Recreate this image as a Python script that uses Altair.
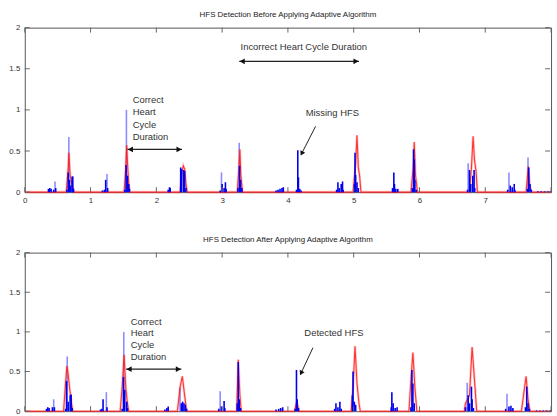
import altair as alt
import pandas as pd

FONT = "Liberation Sans"

# ---------------- Top panel data ----------------
top_blue_x = [0.36, 0.38, 0.40, 0.44, 0.46, 0.47,
              0.64, 0.66, 0.67, 0.68, 0.70, 0.72, 0.73, 0.74,
              1.18, 1.21, 1.23, 1.25, 1.26,
              1.52, 1.54, 1.545, 1.56, 1.58, 1.59,
              2.18, 2.20, 2.21,
              2.37, 2.38, 2.41, 2.43, 2.45,
              2.97, 2.99, 3.00, 3.03, 3.05, 3.06,
              3.24, 3.26, 3.265, 3.28, 3.30,
              3.82, 3.85, 3.88, 3.91, 3.93,
              4.13, 4.15, 4.16, 4.18, 4.20,
              4.74, 4.76, 4.78, 4.81, 4.83, 4.84,
              5.01, 5.02, 5.03, 5.05, 5.07,
              5.59, 5.61, 5.62, 5.64, 5.67,
              5.89, 5.91, 5.92, 5.93, 5.95,
              6.73, 6.74, 6.76, 6.78, 6.81, 6.83, 6.84,
              7.34, 7.36, 7.38, 7.41, 7.44, 7.45,
              7.64, 7.65, 7.66, 7.68, 7.70,
              7.80, 7.85, 7.90, 7.95, 7.99]
top_blue_h = [0.04, 0.05, 0.04, 0.03, 0.13, 0.05,
              0.03, 0.24, 0.67, 0.15, 0.08, 0.19, 0.19, 0.04,
              0.02, 0.03, 0.15, 0.22, 0.05,
              0.03, 0.33, 1.00, 0.20, 0.10, 0.04,
              0.03, 0.06, 0.05,
              0.30, 0.28, 0.27, 0.26, 0.05,
              0.02, 0.24, 0.10, 0.05, 0.12, 0.04,
              0.05, 0.60, 0.32, 0.15, 0.05,
              0.02, 0.03, 0.04, 0.05, 0.06,
              0.03, 0.51, 0.18, 0.04, 0.02,
              0.03, 0.12, 0.05, 0.10, 0.13, 0.03,
              0.10, 0.48, 0.21, 0.12, 0.05,
              0.05, 0.24, 0.10, 0.04, 0.04,
              0.05, 0.52, 0.40, 0.15, 0.03,
              0.03, 0.35, 0.27, 0.10, 0.20, 0.27, 0.05,
              0.03, 0.24, 0.08, 0.06, 0.10, 0.03,
              0.04, 0.42, 0.30, 0.10, 0.03,
              0.01, 0.01, 0.01, 0.01, 0.01]
top_blue_light = [0, 0, 0, 0, 1, 0,
                  0, 0, 1, 0, 0, 0, 0, 0,
                  0, 0, 0, 1, 0,
                  0, 0, 1, 0, 0, 0,
                  0, 0, 0,
                  0, 0, 0, 0, 0,
                  0, 1, 0, 0, 0, 0,
                  0, 1, 0, 0, 0,
                  0, 0, 0, 0, 0,
                  0, 0, 0, 0, 0,
                  0, 0, 0, 0, 0, 0,
                  0, 0, 0, 0, 0,
                  0, 0, 0, 0, 0,
                  0, 0, 0, 0, 0,
                  0, 1, 0, 0, 0, 0, 0,
                  0, 1, 0, 0, 0, 0,
                  0, 1, 0, 0, 0,
                  0, 0, 0, 0, 0]
top_red_x = [0, 0.63, 0.66, 0.67, 0.69, 0.72, 0.75,
             1.51, 1.535, 1.55, 1.565, 1.58, 1.60,
             2.36, 2.39, 2.41, 2.43, 2.45, 2.47,
             3.23, 3.255, 3.27, 3.285, 3.31,
             4.99, 5.03, 5.05, 5.07, 5.09, 5.11,
             5.87, 5.905, 5.92, 5.94, 5.97,
             6.76, 6.79, 6.815, 6.835, 6.86, 6.88,
             7.62, 7.655, 7.675, 7.70, 8.0]
top_red_y = [0, 0, 0.30, 0.48, 0.20, 0.08, 0,
             0, 0.30, 0.57, 0.30, 0.10, 0,
             0, 0.25, 0.32, 0.28, 0.10, 0,
             0, 0.30, 0.52, 0.20, 0,
             0, 0.35, 0.69, 0.30, 0.20, 0,
             0, 0.30, 0.61, 0.20, 0,
             0, 0.30, 0.68, 0.40, 0.25, 0,
             0, 0.31, 0.10, 0, 0]

# ---------------- Bottom panel data ----------------
bot_blue_x = [0.33, 0.35, 0.37, 0.42, 0.44, 0.45,
              0.62, 0.635, 0.645, 0.66, 0.69, 0.705, 0.72,
              1.15, 1.17, 1.19, 1.24, 1.25,
              1.48, 1.50, 1.505, 1.52, 1.55, 1.56,
              2.13, 2.16, 2.18,
              2.36, 2.38, 2.40, 2.42, 2.44, 2.46,
              2.95, 2.97, 2.99, 3.03, 3.04,
              3.23, 3.245, 3.26, 3.28,
              3.82, 3.86, 3.89, 3.92,
              4.11, 4.13, 4.14, 4.16,
              4.71, 4.73, 4.76, 4.79, 4.81,
              4.98, 4.99, 5.01, 5.03,
              5.57, 5.58, 5.60, 5.63, 5.66,
              5.87, 5.885, 5.90, 5.92,
              6.70, 6.725, 6.74, 6.76, 6.79, 6.80, 6.82,
              7.31, 7.33, 7.36, 7.39, 7.42,
              7.61, 7.63, 7.65, 7.67,
              7.78, 7.83, 7.88, 7.93, 7.99]
bot_blue_h = [0.03, 0.05, 0.04, 0.05, 0.15, 0.05,
              0.03, 0.38, 0.69, 0.12, 0.20, 0.21, 0.04,
              0.02, 0.03, 0.15, 0.24, 0.05,
              0.03, 0.43, 1.00, 0.27, 0.12, 0.04,
              0.02, 0.04, 0.06,
              0.30, 0.10, 0.12, 0.10, 0.08, 0.03,
              0.03, 0.25, 0.06, 0.13, 0.04,
              0.10, 0.62, 0.15, 0.04,
              0.02, 0.03, 0.04, 0.05,
              0.03, 0.52, 0.15, 0.04,
              0.03, 0.10, 0.05, 0.12, 0.03,
              0.20, 0.50, 0.12, 0.08,
              0.05, 0.24, 0.10, 0.04, 0.05,
              0.05, 0.52, 0.35, 0.10,
              0.05, 0.36, 0.20, 0.10, 0.31, 0.15, 0.04,
              0.03, 0.22, 0.06, 0.07, 0.04,
              0.05, 0.31, 0.10, 0.03,
              0.01, 0.01, 0.01, 0.01, 0.01]
bot_blue_light = [0, 0, 0, 0, 1, 0,
                  0, 0, 1, 0, 0, 0, 0,
                  0, 0, 0, 1, 0,
                  0, 0, 1, 0, 0, 0,
                  0, 0, 0,
                  1, 0, 0, 0, 0, 0,
                  0, 1, 0, 0, 0,
                  0, 0, 0, 0,
                  0, 0, 0, 0,
                  0, 0, 0, 0,
                  0, 0, 0, 0, 0,
                  0, 0, 0, 0,
                  0, 0, 0, 0, 0,
                  0, 0, 0, 0,
                  0, 1, 0, 0, 0, 0, 0,
                  0, 1, 0, 0, 0,
                  0, 0, 0, 0,
                  0, 0, 0, 0, 0]
bot_red_x = [0, 0.59, 0.615, 0.64, 0.655, 0.68, 0.71, 0.73,
             1.45, 1.48, 1.51, 1.535, 1.56, 1.58,
             2.32, 2.36, 2.395, 2.43, 2.46,
             3.22, 3.245, 3.27, 3.29,
             4.10, 4.135, 4.17,
             4.96, 4.99, 5.02, 5.05, 5.08, 5.10,
             5.84, 5.87, 5.90, 5.93, 5.96,
             6.68, 6.70, 6.73, 6.76, 6.80, 6.84, 6.87,
             7.55, 7.62, 7.65, 7.68, 8.0]
bot_red_y = [0, 0, 0.30, 0.57, 0.50, 0.30, 0.10, 0,
             0, 0.30, 0.71, 0.30, 0.10, 0,
             0, 0.30, 0.44, 0.20, 0,
             0, 0.65, 0.20, 0,
             0, 0.12, 0,
             0, 0.30, 0.82, 0.35, 0.10, 0,
             0, 0.40, 0.74, 0.30, 0,
             0, 0.10, 0.15, 0.20, 0.81, 0.35, 0,
             0, 0.44, 0.15, 0, 0]

# ---------------- Annotations ----------------
top_title = "HFS Detection Before Applying Adaptive Algorithm"
bot_title = "HFS Detection After Applying Adaptive Algorithm"

top_text = ["Incorrect Heart Cycle Duration", "Correct", "Heart", "Cycle", " Duration", "Missing HFS"]
top_text_x = [3.28, 1.64, 1.64, 1.64, 1.64, 4.27]
top_text_y = [1.76, 1.12, 0.97, 0.82, 0.67, 0.96]
top_darrow_x1 = [3.26, 1.56]
top_darrow_x2 = [5.08, 2.39]
top_darrow_y = [1.59, 0.52]
top_arrow = [4.42, 0.80, 4.21, 0.47]

bot_text = ["Correct", "Heart", "Cycle", " Duration", "Detected HFS"]
bot_text_x = [1.61, 1.61, 1.61, 1.61, 4.25]
bot_text_y = [1.13, 0.98, 0.83, 0.68, 0.98]
bot_darrow_x1 = [1.54]
bot_darrow_x2 = [2.38]
bot_darrow_y = [0.53]
bot_arrow = [4.38, 0.80, 4.20, 0.48]

x_ticks = [0, 1, 2, 3, 4, 5, 6, 7, 8]
x_labels = [0, 1, 2, 3, 4, 5, 6, 7]
y_ticks = [0, 0.5, 1, 1.5, 2]

W = 531


def panel(title, bx, bh, bl, rx, ry, tx, ty, tt, dx1, dx2, dy, arr, H, show_labels):
    xs = alt.Scale(domain=[0, 8], nice=False, zero=False)
    ys = alt.Scale(domain=[0, 2], nice=False)
    xaxis = alt.Axis(values=x_labels, labels=show_labels, ticks=False, domain=False, grid=False,
                     title=None, labelFont=FONT, labelFontSize=8, labelColor="#333",
                     labelPadding=4, format="~g", labelFlush=False)
    yaxis = alt.Axis(values=y_ticks, ticks=False, domain=False, grid=False, title=None,
                     labelFont=FONT, labelFontSize=8, labelColor="#333", labelPadding=5,
                     minExtent=20, maxExtent=20, labelFlush=False, format="~g")

    def X(f):
        return alt.X(f, scale=xs, axis=xaxis, title=None)

    def Y(f):
        return alt.Y(f, scale=ys, axis=yaxis, title=None)

    blue = pd.DataFrame({"x": bx, "h": bh, "light": bl, "z": [0] * len(bx)})
    red = pd.DataFrame({"x": rx, "y": ry})

    light = alt.Chart(blue[blue.light == 1]).mark_rule(color="#0000ff", opacity=0.45, strokeWidth=1.6).encode(
        x=X("x:Q"), y=Y("h:Q"), y2="z:Q")
    halo = alt.Chart(red).mark_line(color="#ff3030", opacity=0.25, strokeWidth=2.6).encode(
        x=X("x:Q"), y=Y("y:Q"))
    core = alt.Chart(red).mark_line(color="#ff1a1a", opacity=0.85, strokeWidth=1.1).encode(
        x=X("x:Q"), y=Y("y:Q"))
    dark = alt.Chart(blue[blue.light == 0]).mark_rule(color="#0000ee", strokeWidth=1.6).encode(
        x=X("x:Q"), y=Y("h:Q"), y2="z:Q")

    xt = pd.DataFrame({"v": x_ticks})
    yt = pd.DataFrame({"v": y_ticks})
    tick_col = "#666"
    bt = alt.Chart(xt).mark_rule(color=tick_col).encode(
        x=X("v:Q"), y=alt.value(H), y2=alt.value(H - 5))
    tt_ = alt.Chart(xt).mark_rule(color=tick_col).encode(
        x=X("v:Q"), y=alt.value(0), y2=alt.value(5))
    lt = alt.Chart(yt).mark_rule(color=tick_col).encode(
        y=Y("v:Q"), x=alt.value(0), x2=alt.value(5))
    rt = alt.Chart(yt).mark_rule(color=tick_col).encode(
        y=Y("v:Q"), x=alt.value(W - 1), x2=alt.value(W - 6))

    txt = pd.DataFrame({"x": tx, "y": ty, "t": tt})
    texts = alt.Chart(txt).mark_text(align="left", baseline="middle", font=FONT, fontSize=9.5,
                                      color="#333").encode(
        x=X("x:Q"), y=Y("y:Q"), text="t:N")

    da = pd.DataFrame({"x1": dx1, "x2": dx2, "y": dy})
    dline = alt.Chart(da).mark_rule(color="#222", strokeWidth=1.2).encode(
        x=X("x1:Q"), x2="x2:Q", y=Y("y:Q"))
    lhead = alt.Chart(da).mark_point(shape="triangle-left", filled=True, color="#111", size=35,
                                     opacity=1, xOffset=3).encode(x=X("x1:Q"), y=Y("y:Q"))
    rhead = alt.Chart(da).mark_point(shape="triangle-right", filled=True, color="#111", size=35,
                                     opacity=1, xOffset=-3).encode(x=X("x2:Q"), y=Y("y:Q"))

    ar = pd.DataFrame({"x1": [arr[0]], "y1": [arr[1]], "x2": [arr[2]], "y2": [arr[3]]})
    aline = alt.Chart(ar).mark_rule(color="#222", strokeWidth=1).encode(
        x=X("x1:Q"), y=Y("y1:Q"), x2="x2:Q", y2="y2:Q")
    ahead = alt.Chart(ar).mark_point(shape="triangle-up", filled=True, color="#111", size=30,
                                     opacity=1, angle=207).encode(x=X("x2:Q"), y=Y("y2:Q"))

    return alt.layer(light, halo, core, dark, bt, tt_, lt, rt, texts, dline, lhead, rhead,
                     aline, ahead).properties(
        width=W, height=H,
        title=alt.Title(title, font=FONT, fontSize=8, fontWeight="normal", color="#222", offset=5),
    )


top = panel(top_title, top_blue_x, top_blue_h, top_blue_light, top_red_x, top_red_y,
            top_text_x, top_text_y, top_text, top_darrow_x1, top_darrow_x2, top_darrow_y,
            top_arrow, 166, True)
bot = panel(bot_title, bot_blue_x, bot_blue_h, bot_blue_light, bot_red_x, bot_red_y,
            bot_text_x, bot_text_y, bot_text, bot_darrow_x1, bot_darrow_x2, bot_darrow_y,
            bot_arrow, 160, False)

chart = alt.vconcat(top, bot, spacing=30).properties(
    padding={"left": 4, "top": 8, "right": 0, "bottom": 0},
    background="white",
).configure_view(stroke="#555", strokeWidth=1)

chart.save("out.html", embed_options={"renderer": "svg", "actions": False})
